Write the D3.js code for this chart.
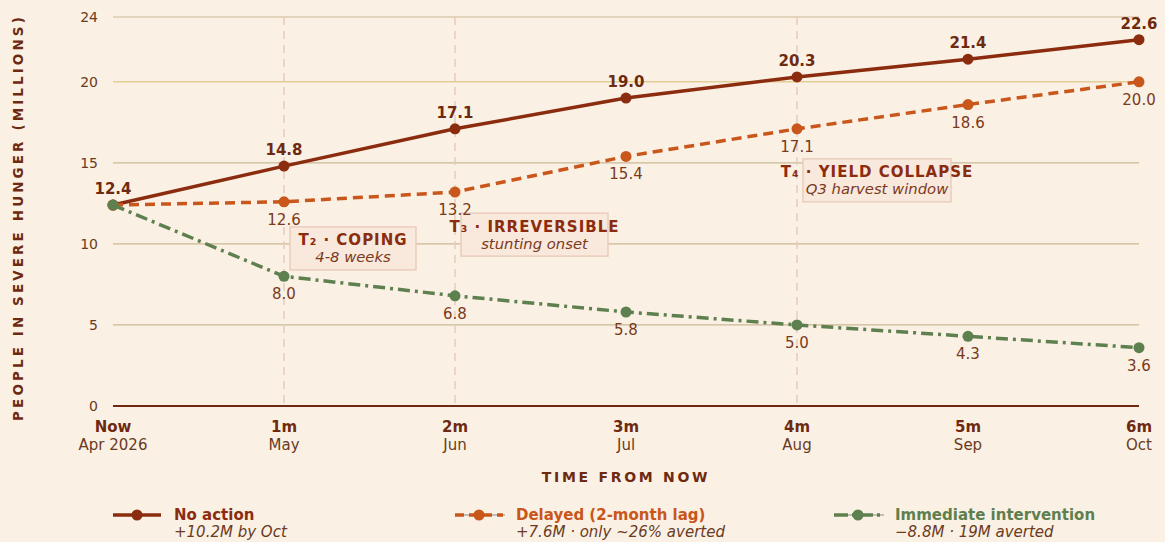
<!DOCTYPE html>
<html>
<head>
<meta charset="utf-8">
<script src="https://cdn.jsdelivr.net/npm/d3@7"></script>
<style>
  html, body { margin: 0; padding: 0; background: #faf1e4; }
  svg { display: block; font-family: "DejaVu Sans", sans-serif; }
</style>
</head>
<body>
<svg id="chart" width="1165" height="542"></svg>
<script>
// ---- data ----
const periods = ["Now", "1m", "2m", "3m", "4m", "5m", "6m"];
const months = ["Apr 2026", "May", "Jun", "Jul", "Aug", "Sep", "Oct"];
const noAction = [12.4, 14.8, 17.1, 19.0, 20.3, 21.4, 22.6];
const delayed = [12.4, 12.6, 13.2, 15.4, 17.1, 18.6, 20.0];
const immediate = [12.4, 8.0, 6.8, 5.8, 5.0, 4.3, 3.6];
const yTicks = [0, 5, 10, 15, 20, 24];
const seriesNames = ["No action", "Delayed (2-month lag)", "Immediate intervention"];
const seriesNotes = ["+10.2M by Oct", "+7.6M \u00b7 only ~26% averted", "\u22128.8M \u00b7 19M averted"];
const thresholdIdx = [1, 2, 4];
const thresholdTitles = ["T\u2082 \u00b7 COPING", "T\u2083 \u00b7 IRREVERSIBLE", "T\u2084 \u00b7 YIELD COLLAPSE"];
const thresholdNotes = ["4-8 weeks", "stunting onset", "Q3 harvest window"];
const thresholdBoxTop = [11.05, 11.9, 15.25];

// ---- styles ----
const W = 1165, H = 542;
const M = { left: 113, right: 26, top: 17, bottom: 136 };
const colors = ["#8B2C0F", "#C9561A", "#5E7F4E"];
const dashes = [null, "10,6", "12,5,3,5"];
const legendX = [113, 455, 834];
const boxW = [126, 147, 148];
const textDark = "#6E2A10";
const labelCol = "#7A3A1C";

const svg = d3.select("#chart");
svg.append("rect").attr("width", W).attr("height", H).attr("fill", "#faf1e4");

const x = d3.scaleLinear().domain([0, periods.length - 1]).range([M.left, W - M.right]);
const y = d3.scaleLinear().domain([0, 24]).range([H - M.bottom, M.top]);

// grid
const g = svg.append("g");
g.selectAll("line.grid").data(yTicks.filter(d => d > 0)).join("line")
  .attr("x1", x(0)).attr("x2", x(6))
  .attr("y1", d => y(d)).attr("y2", d => y(d))
  .attr("stroke", d => d === 20 ? "#e2cd96" : "#cbb996")
  .attr("stroke-width", d => d === 20 ? 1.5 : 1.2);

// threshold vertical lines
g.selectAll("line.thr").data(thresholdIdx).join("line")
  .attr("x1", d => x(d)).attr("x2", d => x(d))
  .attr("y1", y(24)).attr("y2", y(0))
  .attr("stroke", "#e6cbbd").attr("stroke-width", 1.5)
  .attr("stroke-dasharray", "8,6");

// y tick labels
g.selectAll("text.yt").data(yTicks).join("text")
  .attr("x", M.left - 15).attr("y", d => y(d)).attr("dy", "0.35em")
  .attr("text-anchor", "end").attr("font-size", 14).attr("fill", "#6b3a22")
  .text(d => d);

// x axis line
g.append("line").attr("x1", x(0)).attr("x2", x(6)).attr("y1", y(0)).attr("y2", y(0))
  .attr("stroke", textDark).attr("stroke-width", 2);

// x tick labels
const xt = g.selectAll("g.xt").data(periods).join("g")
  .attr("transform", (d, i) => `translate(${x(i)},0)`);
xt.append("text").attr("y", 432).attr("text-anchor", "middle")
  .attr("font-size", 15).attr("font-weight", "bold").attr("fill", textDark).text(d => d);
xt.append("text").attr("y", 450).attr("text-anchor", "middle")
  .attr("font-size", 15).attr("fill", "#6b3a22").text((d, i) => months[i]);

// axis titles
svg.append("text").attr("x", x(3)).attr("y", 482).attr("text-anchor", "middle")
  .attr("font-size", 14).attr("font-weight", "bold").attr("letter-spacing", 2.7)
  .attr("fill", textDark).text("TIME FROM NOW");
svg.append("text").attr("transform", `translate(23,${(y(0) + y(24)) / 2 + 6}) rotate(-90)`)
  .attr("text-anchor", "middle").attr("font-size", 13.5).attr("font-weight", "bold")
  .attr("letter-spacing", 3.1).attr("fill", textDark)
  .text("PEOPLE IN SEVERE HUNGER (MILLIONS)");

// threshold annotation boxes
thresholdIdx.forEach((idx, k) => {
  const bx = x(idx) + 6, by = y(thresholdBoxTop[k]);
  const cx = bx + boxW[k] / 2;
  const ag = svg.append("g");
  ag.append("rect").attr("x", bx).attr("y", by).attr("width", boxW[k]).attr("height", 43)
    .attr("fill", "#f9e8dc").attr("stroke", "#eacdbd").attr("stroke-width", 1.5);
  ag.append("text").attr("x", cx).attr("y", by + 18.5).attr("text-anchor", "middle")
    .attr("font-size", 15).attr("font-weight", "bold").attr("letter-spacing", 1.0)
    .attr("fill", "#8B2C0F").text(thresholdTitles[k]);
  ag.append("text").attr("x", cx).attr("y", by + 35.5).attr("text-anchor", "middle")
    .attr("font-size", 14.8).attr("font-style", "italic")
    .attr("fill", "#7A3A1C").text(thresholdNotes[k]);
});

// series
const series = [noAction, delayed, immediate];
const line = d3.line().x((d, i) => x(i)).y(d => y(d));
series.forEach((vals, s) => {
  const sg = svg.append("g");
  sg.append("path").datum(vals).attr("d", line).attr("fill", "none")
    .attr("stroke", colors[s]).attr("stroke-width", 3.5)
    .attr("stroke-dasharray", dashes[s]);
  sg.selectAll("circle").data(vals).join("circle")
    .attr("cx", (d, i) => x(i)).attr("cy", d => y(d)).attr("r", 5.5)
    .attr("fill", colors[s]);
});

// data labels
svg.append("g").selectAll("text").data(noAction).join("text")
  .attr("x", (d, i) => x(i)).attr("y", d => y(d) - 11).attr("text-anchor", "middle")
  .attr("font-size", 15).attr("font-weight", "bold").attr("fill", textDark)
  .text(d => d.toFixed(1));
[delayed, immediate].forEach(vals => {
  svg.append("g").selectAll("text").data(vals.map((v, i) => ({ v, i })).filter(d => d.i > 0)).join("text")
    .attr("x", d => x(d.i)).attr("y", d => y(d.v) + 23).attr("text-anchor", "middle")
    .attr("font-size", 15).attr("fill", labelCol)
    .text(d => d.v.toFixed(1));
});

// legend
seriesNames.forEach((name, s) => {
  const lg = svg.append("g").attr("transform", `translate(${legendX[s]},515)`);
  if (s > 0) {
    lg.append("line").attr("x1", 0).attr("x2", 50).attr("y1", 0).attr("y2", 0)
      .attr("stroke", "#8a8a8a").attr("stroke-width", 1);
  }
  lg.append("line").attr("x1", 0).attr("x2", 48).attr("y1", 0).attr("y2", 0)
    .attr("stroke", colors[s]).attr("stroke-width", 3.5)
    .attr("stroke-dasharray", s === 1 ? "9,5" : s === 2 ? "14,4,3,4" : null);
  lg.append("circle").attr("cx", 24).attr("cy", 0).attr("r", 5.5).attr("fill", colors[s]);
  lg.append("text").attr("x", 61).attr("y", 5).attr("font-size", 15).attr("font-weight", "bold")
    .attr("fill", colors[s]).text(name);
  lg.append("text").attr("x", 61).attr("y", 22).attr("font-size", 15).attr("font-style", "italic")
    .attr("fill", "#6b3a22").text(seriesNotes[s]);
});
</script>
</body>
</html>
